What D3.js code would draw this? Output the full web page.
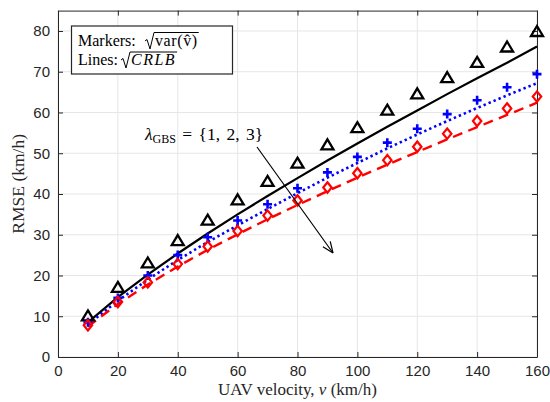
<!DOCTYPE html>
<html><head><meta charset="utf-8">
<script src="https://cdn.jsdelivr.net/npm/d3@7/dist/d3.min.js"></script>
<style>body{margin:0;background:#fff}</style>
</head><body>
<svg id="c" width="550" height="402"></svg>
<script>
const velocities = [10,20,30,40,50,60,70,80,90,100,110,120,130,140,150,160];
// markers: sqrt(var(v_hat))
const markerGBS1 = [10,17,23,28.5,33.5,38.5,43,47.5,52,56.2,60.5,64.5,68.5,72.2,76,79.8];
const markerGBS2 = [8.5,14.5,20,25,29.4,33.5,37.5,41.4,45.3,49.1,52.6,56,59.6,63,66.2,69.4];
const markerGBS3 = [7.8,13.5,18.3,22.8,27.1,30.9,34.7,38.4,41.6,45.1,48.3,51.6,54.8,57.9,61,63.9];
// lines: sqrt(CRLB)
const crlbGBS1 = [8.5,14.7,20.2,25.4,30.3,35,39.5,43.9,48.2,52.4,56.5,60.5,64.5,68.4,72.2,76.2];
const crlbGBS2 = [8,13.8,19,23.8,28.2,32.3,36.3,40.2,44,47.6,51.2,54.6,57.9,61.1,64.2,67.2];
const crlbGBS3 = [7.5,13,17.8,22.2,26.3,30.1,33.8,37.3,40.7,44,47.2,50.3,53.4,56.4,59.4,62.4];
const xTicks = [0,20,40,60,80,100,120,140,160];
const yTicks = [0,10,20,30,40,50,60,70,80];

const svg = d3.select('#c');
const L = 58, R = 537, T = 10.6, B = 357;
const x = d3.scaleLinear().domain([0,160]).range([L,R]);
const y = d3.scaleLinear().domain([0,85]).range([B,T]);
const axCol = '#262626';
const serif = '"Liberation Serif","Times New Roman",serif';
const sans = '"Liberation Sans",Arial,Helvetica,sans-serif';

// grid
const grid = svg.append('g');
grid.selectAll('line.gx').data(xTicks).join('line')
  .attr('x1', d=>x(d)).attr('x2', d=>x(d)).attr('y1', T).attr('y2', B)
  .attr('stroke', '#e6e6e6').attr('stroke-width', 1);
grid.selectAll('line.gy').data(yTicks).join('line')
  .attr('y1', d=>y(d)).attr('y2', d=>y(d)).attr('x1', L).attr('x2', R)
  .attr('stroke', '#e6e6e6').attr('stroke-width', 1);

// axes
function styleAxis(g){
  g.selectAll('path.domain').attr('stroke', axCol).attr('stroke-width', 1);
  g.selectAll('.tick line').attr('stroke', axCol).attr('stroke-width', 1);
  g.selectAll('.tick text').attr('fill', axCol).style('font-family', sans).style('font-size', '15px');
}
svg.append('g').attr('transform', `translate(0,${B})`)
  .call(d3.axisBottom(x).tickValues(xTicks).tickSize(-5).tickSizeOuter(0).tickPadding(8))
  .call(styleAxis);
svg.append('g').attr('transform', `translate(${L},0)`)
  .call(d3.axisLeft(y).tickValues(yTicks).tickSize(-5).tickSizeOuter(0).tickPadding(8))
  .call(styleAxis);
svg.append('g').attr('transform', `translate(0,${T})`)
  .call(d3.axisTop(x).tickValues(xTicks).tickSize(-5).tickSizeOuter(0).tickFormat(''))
  .call(styleAxis);
svg.append('g').attr('transform', `translate(${R},0)`)
  .call(d3.axisRight(y).tickValues(yTicks).tickSize(-5).tickSizeOuter(0).tickFormat(''))
  .call(styleAxis);

// lines
const line = d3.line().x((d,i)=>x(velocities[i])).y(d=>y(d));
svg.append('path').attr('d', line(crlbGBS1)).attr('fill','none')
  .attr('stroke','#000').attr('stroke-width',2.2);
svg.append('path').attr('d', line(crlbGBS2)).attr('fill','none')
  .attr('stroke','#0000ff').attr('stroke-width',2.6).attr('stroke-dasharray','2.4,3');
svg.append('path').attr('d', line(crlbGBS3)).attr('fill','none')
  .attr('stroke','#ff0000').attr('stroke-width',2.4).attr('stroke-dasharray','10,6.5');

// markers
svg.append('g').selectAll('path').data(markerGBS1).join('path')
  .attr('transform', (d,i)=>`translate(${x(velocities[i])},${y(d)})`)
  .attr('d', 'M0,-5.8L6,4.2L-6,4.2Z').attr('fill','none')
  .attr('stroke','#000').attr('stroke-width',2.3).attr('stroke-linejoin','miter');
svg.append('g').selectAll('path').data(markerGBS2).join('path')
  .attr('transform', (d,i)=>`translate(${x(velocities[i])},${y(d)})`)
  .attr('d', 'M-4.5,0H4.5M0,-4.5V4.5').attr('fill','none')
  .attr('stroke','#0000ff').attr('stroke-width',2.6);
svg.append('g').selectAll('path').data(markerGBS3).join('path')
  .attr('transform', (d,i)=>`translate(${x(velocities[i])},${y(d)})`)
  .attr('d', 'M0,-5.2L4.2,0L0,5.2L-4.2,0Z').attr('fill','none')
  .attr('stroke','#ff0000').attr('stroke-width',2.2);

// axis labels
svg.append('text').attr('x', (L+R)/2).attr('y', 395).attr('text-anchor','middle')
  .style('font-family', serif).style('font-size','17px').attr('fill', axCol)
  .call(t=>{
    t.append('tspan').text('UAV velocity, ');
    t.append('tspan').attr('font-style','italic').text('v');
    t.append('tspan').text(' (km/h)');
  });
svg.append('text').attr('transform', `translate(24,${(T+B)/2}) rotate(-90)`)
  .attr('text-anchor','middle')
  .style('font-family', serif).style('font-size','17.5px').attr('fill', axCol)
  .text('RMSE (km/h)');

// legend box
const lg = svg.append('g');
lg.append('rect').attr('x',71.5).attr('y',26).attr('width',161).attr('height',48)
  .attr('fill','#fff').attr('stroke',axCol).attr('stroke-width',1.2);
function sqrtGroup(g, x0, base, h, contentFn){
  const txt = g.append('text').attr('x', x0+10).attr('y', base)
    .style('font-family', serif).style('font-size','16px').attr('fill','#000');
  contentFn(txt);
  const w = txt.node().getComputedTextLength();
  const top = base - h;
  g.append('path')
    .attr('d', `M${x0},${base-5}L${x0+2},${base-6.5}L${x0+5},${base+3}L${x0+9},${top}H${x0+10+w+1}`)
    .attr('fill','none').attr('stroke','#000').attr('stroke-width',1);
}
lg.append('text').attr('x',78).attr('y',46).style('font-family',serif).style('font-size','16px')
  .text('Markers:');
sqrtGroup(lg, 145, 46, 13.5, t=>{ t.attr('letter-spacing', 0.6).text('var(v\u0302)'); });
lg.append('text').attr('x',78).attr('y',65).style('font-family',serif).style('font-size','16px')
  .text('Lines:');
sqrtGroup(lg, 121, 65, 13, t=>{ t.append('tspan').attr('font-style','italic').attr('letter-spacing', 1.5).text('CRLB'); });

// annotation
const ann = svg.append('text').attr('x',145).attr('y',140)
  .style('font-family', serif).style('font-size','17.5px').attr('fill','#000');
ann.append('tspan').attr('font-style','italic').text('λ');
ann.append('tspan').attr('font-size','12px').attr('dy',3).text('GBS');
ann.append('tspan').attr('dy',-3).attr('word-spacing', 2).text(' = {1, 2, 3}');

const ax0 = 257, ay0 = 147, ax1 = 333, ay1 = 253;
svg.append('line').attr('x1',ax0).attr('y1',ay0).attr('x2',ax1).attr('y2',ay1)
  .attr('stroke','#000').attr('stroke-width',1.2);
const ang = Math.atan2(ay1-ay0, ax1-ax0);
const hl = 11, hw = 4.5;
const bx = ax1 - hl*Math.cos(ang), by = ay1 - hl*Math.sin(ang);
svg.append('path')
  .attr('d', `M${ax1},${ay1}L${bx - hw*Math.sin(ang)},${by + hw*Math.cos(ang)}M${ax1},${ay1}L${bx + hw*Math.sin(ang)},${by - hw*Math.cos(ang)}`)
  .attr('stroke','#000').attr('stroke-width',1.2).attr('fill','none');
</script>
</body></html>
